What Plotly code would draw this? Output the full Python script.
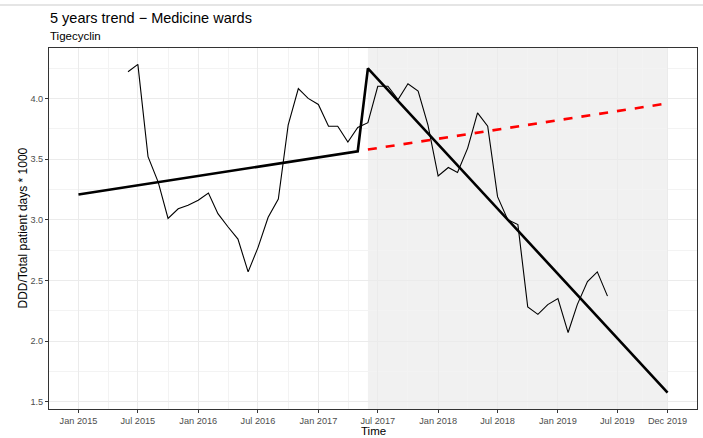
import plotly.graph_objects as go
import pandas as pd

# ---- data ----
obs_start = "2015-06-01"
obs_values = [4.22, 4.28, 3.52, 3.31, 3.01, 3.09, 3.12,
              3.16, 3.22, 3.05, 2.94, 2.84, 2.57, 2.77, 3.02, 3.17, 3.78, 4.08, 4.00,
              3.95, 3.77, 3.77, 3.64, 3.76, 3.80, 4.10, 4.10, 3.99, 4.12, 4.06, 3.78,
              3.36, 3.43, 3.39, 3.59, 3.88, 3.77, 3.19, 3.00, 2.96, 2.28, 2.22, 2.30,
              2.35, 2.07, 2.30, 2.49, 2.57, 2.37]
obs_dates = pd.date_range(obs_start, periods=len(obs_values), freq="MS")

fit_dates = ["2015-01-01", "2017-05-01", "2017-06-01", "2019-12-01"]
fit_values = [3.207, 3.564, 4.248, 1.575]

cf_dates = ["2017-06-01", "2019-12-01"]
cf_values = [3.578, 3.959]

shade_start = "2017-06-01"
shade_end = "2019-12-01"

tick_dates = ["2015-01-01", "2015-07-01", "2016-01-01", "2016-07-01", "2017-01-01",
              "2017-07-01", "2018-01-01", "2018-07-01", "2019-01-01", "2019-07-01",
              "2019-12-01"]
tick_labels = ["Jan 2015", "Jul 2015", "Jan 2016", "Jul 2016", "Jan 2017", "Jul 2017",
               "Jan 2018", "Jul 2018", "Jan 2019", "Jul 2019", "Dec 2019"]
y_ticks = [1.5, 2.0, 2.5, 3.0, 3.5, 4.0]
y_minor = [1.75, 2.25, 2.75, 3.25, 3.75, 4.25]

title = "5 years trend \u2212 Medicine wards"
subtitle = "Tigecyclin"
x_title = "Time"
y_title = "DDD/Total patient days * 1000"

# ---- derived ranges (ggplot-like 5% expansion) ----
td = pd.to_datetime(tick_dates)
x_min = pd.Timestamp(fit_dates[0]); x_max = pd.Timestamp(fit_dates[-1])
span = x_max - x_min
x_range = [x_min - span * 0.05, x_max + span * 0.05]
all_y = list(obs_values) + fit_values + cf_values
y_lo, y_hi = min(all_y), max(all_y)
y_range = [y_lo - (y_hi - y_lo) * 0.05, y_hi + (y_hi - y_lo) * 0.05]
x_minor = [td[i] + (td[i + 1] - td[i]) / 2 for i in range(len(td) - 1)]

FONT = "Liberation Sans, Arial, sans-serif"

fig = go.Figure()
fig.add_trace(go.Scatter(x=obs_dates, y=obs_values, mode="lines",
                         line=dict(color="#000000", width=1.1), showlegend=False))
fig.add_trace(go.Scatter(x=pd.to_datetime(fit_dates), y=fit_values, mode="lines",
                         line=dict(color="#000000", width=2.6), showlegend=False))
fig.add_trace(go.Scatter(x=pd.to_datetime(cf_dates), y=cf_values, mode="lines",
                         line=dict(color="#FF0000", width=2.6, dash="dash"),
                         showlegend=False))

fig.add_shape(type="rect", xref="x", yref="paper", x0=shade_start, x1=shade_end,
              y0=0, y1=1, fillcolor="rgba(128,128,128,0.11)", line_width=0,
              layer="between")
# faint top rule of the screenshot
fig.add_shape(type="line", xref="paper", yref="paper", x0=-49 / 648, x1=654 / 648,
              y0=(409 - 5) / 361, y1=(409 - 5) / 361,
              line=dict(color="#DDDDDD", width=1.5))

axis_common = dict(showline=True, linecolor="#333333", linewidth=1, mirror=True,
                   ticks="outside", ticklen=3, tickcolor="#333333", tickwidth=1,
                   showgrid=True, gridcolor="#EBEBEB", gridwidth=1, zeroline=False,
                   tickfont=dict(family=FONT, size=9.2, color="#4D4D4D"))

fig.update_xaxes(range=x_range, tickmode="array", tickvals=td, ticktext=tick_labels,
                 minor=dict(tickvals=x_minor, showgrid=True, gridcolor="#F3F3F3",
                            gridwidth=1, ticks=""),
                 **axis_common)
fig.update_yaxes(range=y_range, tickmode="array", tickvals=y_ticks,
                 ticktext=[f"{v:.1f}" for v in y_ticks],
                 minor=dict(tickvals=y_minor, showgrid=True, gridcolor="#F3F3F3",
                            gridwidth=1, ticks=""),
                 **axis_common)

fig.add_annotation(text=title, xref="paper", yref="paper", x=-1 / 648, y=(409 - 18) / 361,
                   xanchor="left", yanchor="middle", showarrow=False,
                   font=dict(family=FONT, size=14.5, color="#000000"))
fig.add_annotation(text=subtitle, xref="paper", yref="paper", x=-1 / 648, y=(409 - 36) / 361,
                   xanchor="left", yanchor="middle", showarrow=False,
                   font=dict(family=FONT, size=11.5, color="#000000"))
fig.add_annotation(text=x_title, xref="paper", yref="paper", x=0.5, y=(409 - 437.5) / 361,
                   xanchor="center", yanchor="bottom", showarrow=False, borderpad=0,
                   font=dict(family=FONT, size=11.5, color="#000000"))
fig.add_annotation(text=y_title, xref="paper", yref="paper", x=(22 - 49) / 648, y=0.5,
                   textangle=-90, xanchor="center", yanchor="middle", showarrow=False,
                   font=dict(family=FONT, size=12, color="#000000"))

fig.update_layout(width=703, height=438,
                  margin=dict(l=49, r=6, t=48, b=29, autoexpand=False),
                  plot_bgcolor="#FFFFFF", paper_bgcolor="#FFFFFF",
                  font=dict(family=FONT))

fig.write_html("out.html")
